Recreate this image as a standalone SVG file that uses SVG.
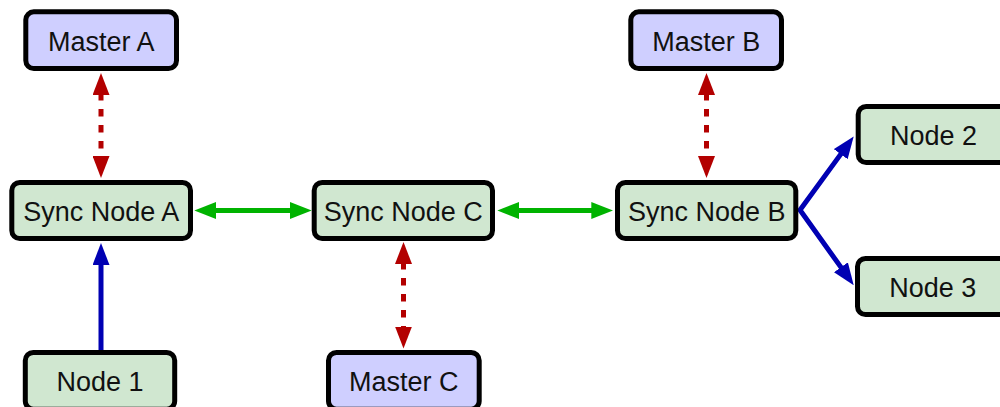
<svg xmlns="http://www.w3.org/2000/svg" width="1000" height="407" viewBox="0 0 1000 407">
  <style>
    .box rect { stroke: #000; stroke-width: 5; rx: 8; ry: 8; }
    .master rect { fill: #CFCFFF; }
    .node rect { fill: #D0E7D0; }
    .box text { font-family: "Liberation Sans", Arial, sans-serif; font-size: 27px; fill: #111; text-anchor: middle; }
    .link { fill: none; stroke-width: 5; }
    .sync { stroke: #B30000; stroke-dasharray: 7.5 8.5; marker-start: url(#headRed); marker-end: url(#headRed); }
    .peer { stroke: #00B300; marker-start: url(#headGreen); marker-end: url(#headGreen); }
    .feed { stroke: #0000B3; stroke-linejoin: miter; }
  </style>
  <defs>
    <marker id="headRed" markerUnits="userSpaceOnUse" markerWidth="22" markerHeight="17" refX="2" refY="8.5" orient="auto-start-reverse">
      <path d="M0,0 L22,8.5 L0,17 z" fill="#B30000"/>
    </marker>
    <marker id="headGreen" markerUnits="userSpaceOnUse" markerWidth="22" markerHeight="17" refX="2" refY="8.5" orient="auto-start-reverse">
      <path d="M0,0 L22,8.5 L0,17 z" fill="#00B300"/>
    </marker>
    <marker id="headBlue" markerUnits="userSpaceOnUse" markerWidth="22" markerHeight="17" refX="2" refY="8.5" orient="auto-start-reverse">
      <path d="M0,0 L22,8.5 L0,17 z" fill="#0000B3"/>
    </marker>
  </defs>

  <!-- connectors -->
  <g id="connectors">
    <line class="link sync" x1="101" y1="93" x2="101" y2="158"/>
    <line class="link sync" x1="706.5" y1="93" x2="706.5" y2="158"/>
    <line class="link sync" x1="403.5" y1="262" x2="403.5" y2="328.5"/>
    <line class="link peer" x1="214.3" y1="210.5" x2="291.7" y2="210.5"/>
    <line class="link peer" x1="517.3" y1="210.5" x2="593.3" y2="210.5"/>
    <line class="link feed" x1="101" y1="350" x2="101" y2="263" marker-end="url(#headBlue)"/>
    <path class="link feed" d="M841.9,152.6 L800,210 L842.1,268.9" marker-start="url(#headBlue)" marker-end="url(#headBlue)"/>
  </g>

  <!-- nodes -->
  <g id="master-a" class="box master">
    <rect x="25.8" y="11.8" width="150.7" height="56.7"/>
    <text x="101.2" y="50.5">Master A</text>
  </g>
  <g id="master-b" class="box master">
    <rect x="630.8" y="11.8" width="150.7" height="56.7"/>
    <text x="706.2" y="50.5">Master B</text>
  </g>
  <g id="master-c" class="box master">
    <rect x="328.5" y="352.5" width="150.7" height="56.7"/>
    <text x="403.8" y="390.5">Master C</text>
  </g>
  <g id="sync-node-a" class="box node">
    <rect x="11.8" y="182.5" width="178.7" height="56"/>
    <text x="101.2" y="220.5">Sync Node A</text>
  </g>
  <g id="sync-node-c" class="box node">
    <rect x="314.2" y="182.5" width="178.3" height="56"/>
    <text x="403.3" y="220.5">Sync Node C</text>
  </g>
  <g id="sync-node-b" class="box node">
    <rect x="617.5" y="182.5" width="178.3" height="56"/>
    <text x="706.7" y="220.5">Sync Node B</text>
  </g>
  <g id="node-1" class="box node">
    <rect x="25.3" y="352.5" width="149.4" height="56.7"/>
    <text x="100" y="390.5">Node 1</text>
  </g>
  <g id="node-2" class="box node">
    <rect x="858.2" y="106.5" width="150.6" height="56"/>
    <text x="933.5" y="144.5">Node 2</text>
  </g>
  <g id="node-3" class="box node">
    <rect x="857.5" y="258.5" width="150.6" height="56"/>
    <text x="932.8" y="296.5">Node 3</text>
  </g>
</svg>
